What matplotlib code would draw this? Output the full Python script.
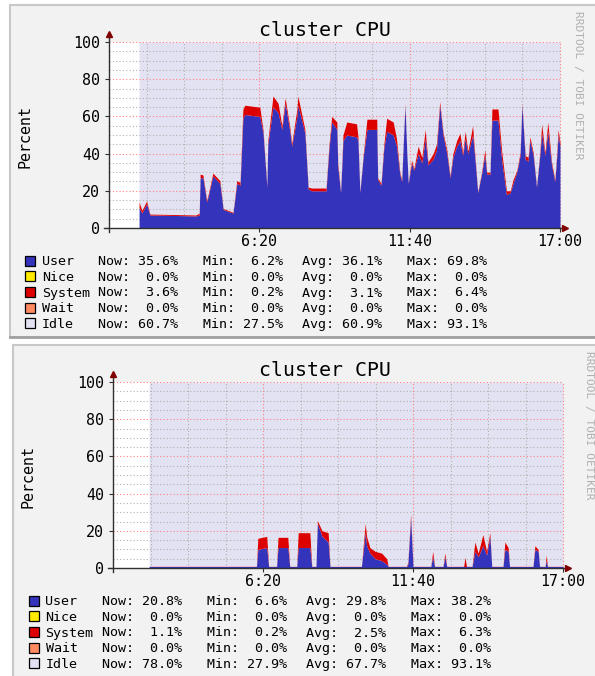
import matplotlib
matplotlib.use("Agg")
import matplotlib.pyplot as plt
from matplotlib.patches import Rectangle
import numpy as np

# --- data: minutes since midnight, User % and System % ---
t_top = [124, 130, 140, 147, 245, 252, 254, 260, 268, 271, 281, 296, 303, 324, 332, 339,
         345, 349, 381, 388, 396, 398, 409, 420, 428, 435, 445, 449, 460, 462, 477, 484,
         491, 522, 528, 534, 545, 547, 553, 558, 566, 587, 590, 594, 601, 609, 630, 632,
         639, 645, 651, 665, 672, 679, 683, 690, 694, 697, 704, 709, 718, 726, 733, 739,
         750, 757, 764, 771, 779, 786, 792, 800, 807, 813, 818, 824, 834, 839, 845, 853,
         860, 864, 871, 875, 888, 896, 906, 914, 920, 928, 935, 939, 946, 952, 956, 963,
         970, 977, 981, 988, 994, 1002, 1009, 1013, 1016, 1020]
user_top = [11, 8, 13, 7, 6.5, 7, 27, 27, 14, 17, 28, 24, 10, 8, 24, 23,
            59, 61, 60, 51, 22, 45, 65, 62, 53, 67, 52, 44, 60, 66, 51, 21,
            20, 20, 42, 57, 53, 33, 19, 47, 50, 49, 47, 19, 38, 53, 53, 26,
            23, 43, 52, 50, 44, 29, 25, 66, 40, 24, 35, 31, 40, 35, 48, 34,
            37, 42, 66, 50, 40, 27, 38, 44, 47, 39, 48, 40, 50, 37, 19, 29,
            39, 29, 29, 58, 58, 36, 18, 19, 24, 30, 39, 66, 37, 36, 47, 39,
            22, 39, 51, 39, 52, 34, 25, 38, 50, 44]
sys_top = [3, 1.5, 1.5, 0.5, 0.5, 1, 2, 1.5, 1, 1, 1.5, 1.5, 0.5, 0.5, 1.5, 1.5,
           5, 5, 5, 1.5, 1, 2, 6, 5, 2, 3, 2, 1.5, 4, 5, 2, 1,
           1.5, 1.5, 2, 3, 4, 2, 0.5, 3, 7, 7, 2, 0.5, 1, 5.5, 5.5, 1,
           1, 2, 7, 7, 4, 1, 1, 1, 0.5, 0.5, 1.5, 1, 4, 3, 5, 1.5,
           3, 3, 2, 1.5, 2, 1, 2, 3, 4, 1.5, 4, 1.5, 5, 1.5, 0.5, 1,
           3, 1, 1, 6, 6, 5, 2, 1, 2, 1, 1.5, 1, 2, 2, 2, 1.5,
           0.5, 1.5, 5, 1.5, 5, 1.5, 1, 2, 3, 2]

t_bot = [137, 366, 369, 388, 392, 409, 412, 433, 437, 452, 455, 480, 484, 493, 496, 506,
         519, 523, 590, 598, 601, 608, 619, 633, 644, 647, 686, 689, 695, 700, 738, 742,
         746, 764, 768, 772, 808, 811, 814, 826, 832, 839, 849, 857, 864, 868, 892, 896,
         903, 906, 956, 960, 967, 970, 982, 984, 987, 1020]
user_bot = [0.8, 0.8, 10, 11, 0.8, 0.8, 11, 11, 0.8, 0.8, 11, 11, 0.8, 0.8, 24, 17,
            14, 0.8, 0.8, 19, 12, 8, 5, 4, 2, 0.8, 0.8, 2, 27, 0.8, 0.8, 6,
            0.8, 0.8, 6, 0.8, 0.8, 0.8, 0.8, 0.8, 9, 6, 12, 7, 17, 0.8, 0.8, 10,
            9, 0.8, 0.8, 10, 9, 0.8, 0.8, 4, 0.8, 0.8]
sys_bot = [0.1, 0.1, 6, 6, 0.1, 0.1, 5.5, 5.5, 0.1, 0.1, 8, 8, 0.1, 0.1, 1.5, 3,
           5, 0.1, 0.1, 5, 5, 3, 4, 4, 3, 0.1, 0.1, 1, 2, 0.1, 0.1, 3,
           0.1, 0.1, 2, 0.1, 0.1, 5, 0.1, 0.1, 5, 2, 6, 2, 2, 0.1, 0.1, 4,
           2, 0.1, 0.1, 2, 1, 0.1, 0.1, 3, 0.1, 0.1]

x_ticks = [380, 700, 1020]
x_labels = ["6:20", "11:40", "17:00"]
series = ["User", "Nice", "System", "Wait", "Idle"]
colors = ["#3333bb", "#ffea00", "#dd0000", "#ff8a60", "#e2e2f2"]
stats_top = [[35.6, 6.2, 36.1, 69.8], [0.0, 0.0, 0.0, 0.0], [3.6, 0.2, 3.1, 6.4],
             [0.0, 0.0, 0.0, 0.0], [60.7, 27.5, 60.9, 93.1]]
stats_bot = [[20.8, 6.6, 29.8, 38.2], [0.0, 0.0, 0.0, 0.0], [1.1, 0.2, 2.5, 6.3],
             [0.0, 0.0, 0.0, 0.0], [78.0, 27.9, 67.7, 93.1]]

MONO = "DejaVu Sans Mono"
W, H = 595, 676

fig = plt.figure(figsize=(W / 100, H / 100), dpi=100)
fig.patch.set_facecolor("white")
bg = fig.add_axes([0, 0, 1, 1])
bg.set_xlim(0, W)
bg.set_ylim(H, 0)
bg.axis("off")


def panel(fx, fy, ax_l, ax_t, ax_r, ax_b, t, user, sys_, stats, leg_x, leg_y, wm_x):
    bg.add_patch(Rectangle((fx, fy), 620, 332, facecolor="#f2f2f2", edgecolor="#c8c8c8", lw=1.5))
    bg.plot([fx, 620], [fy + 332, fy + 332], color="#a0a0a0", lw=2)

    ax = fig.add_axes([ax_l / W, 1 - ax_b / H, (ax_r - ax_l) / W, (ax_b - ax_t) / H])
    ax.set_facecolor("white")
    ax.set_xlim(60, 1020)
    ax.set_ylim(0, 100)
    t = np.array(t, float)
    user = np.array(user, float)
    sys_ = np.array(sys_, float)

    ax.fill_between(t, user + sys_, 100, color=colors[4], lw=0, zorder=1)
    for v in range(5, 100, 5):
        major = v % 20 == 0
        ax.axhline(v, color="#ff8080" if major else "#b0b0b0", ls=(0, (1, 2)), lw=0.8, zorder=2)
    ax.axhline(100, color="#ff8080", ls=(0, (1, 2)), lw=0.8, zorder=2, clip_on=False)
    for m in range(140, 1021, 80):
        major = m in x_ticks
        ax.axvline(m, color="#ff8080" if major else "#b0b0b0", ls=(0, (1, 2)), lw=0.8,
                   zorder=2, clip_on=False)
    ax.fill_between(t, 0, user, color=colors[0], lw=0, zorder=3)
    ax.fill_between(t, user, user + sys_, color=colors[2], lw=0, zorder=3)

    for s in ax.spines.values():
        s.set_visible(False)
    ax.plot([60, 60], [-2, 104], color="#303030", lw=1, clip_on=False, zorder=4)
    ax.plot([50, 1026], [0, 0], color="#303030", lw=1, clip_on=False, zorder=4)
    ax.plot(60, 104.5, marker="^", color="#800000", ms=5, clip_on=False, zorder=5)
    ax.plot(1030, 0, marker=">", color="#800000", ms=5, clip_on=False, zorder=5)

    ax.set_yticks(range(0, 101, 20))
    ax.set_yticklabels([str(v) for v in range(0, 101, 20)], fontfamily=MONO, fontsize=10.8)
    ax.set_xticks(x_ticks)
    ax.set_xticklabels(x_labels, fontfamily=MONO, fontsize=10.8)
    ax.tick_params(axis="y", length=3, pad=3.5, color="#303030")
    ax.tick_params(axis="x", length=3, pad=1, color="#303030")

    bg.text(325, fy + 26, "cluster CPU", family=MONO, fontsize=14.3, ha="center", va="center")
    bg.text(fx + 15, (ax_t + ax_b) / 2 + 1, "Percent", family=MONO, fontsize=10.8,
            rotation=90, ha="center", va="center")
    bg.text(wm_x, fy + 6, "RRDTOOL / TOBI OETIKER", family=MONO, fontsize=8,
            rotation=270, ha="center", va="top", color="#b0b0b0")

    cols = [leg_x + 56, leg_x + 161.6, leg_x + 260, leg_x + 365.6]
    names = ["Now:", "Min:", "Avg:", "Max:"]
    for i, name in enumerate(series):
        yc = leg_y + i * 15.65
        bg.add_patch(Rectangle((leg_x - 16.5, yc - 5), 10, 10, facecolor=colors[i],
                               edgecolor="black", lw=0.9))
        bg.text(leg_x, yc + 4.5, name, family=MONO, fontsize=9.6, va="baseline")
        for c, nm, val in zip(cols, names, stats[i]):
            bg.text(c, yc + 4.5, "%s %4.1f%%" % (nm, val), family=MONO, fontsize=9.6,
                    va="baseline")
    return ax


panel(10, 5, 109, 42, 560, 228, t_top, user_top, sys_top, stats_top, 41.7, 260.7, 578)
panel(13, 345, 113, 382, 563, 568, t_bot, user_bot, sys_bot, stats_bot, 45.5, 600.7, 589)

fig.savefig("out.png", dpi=100)
